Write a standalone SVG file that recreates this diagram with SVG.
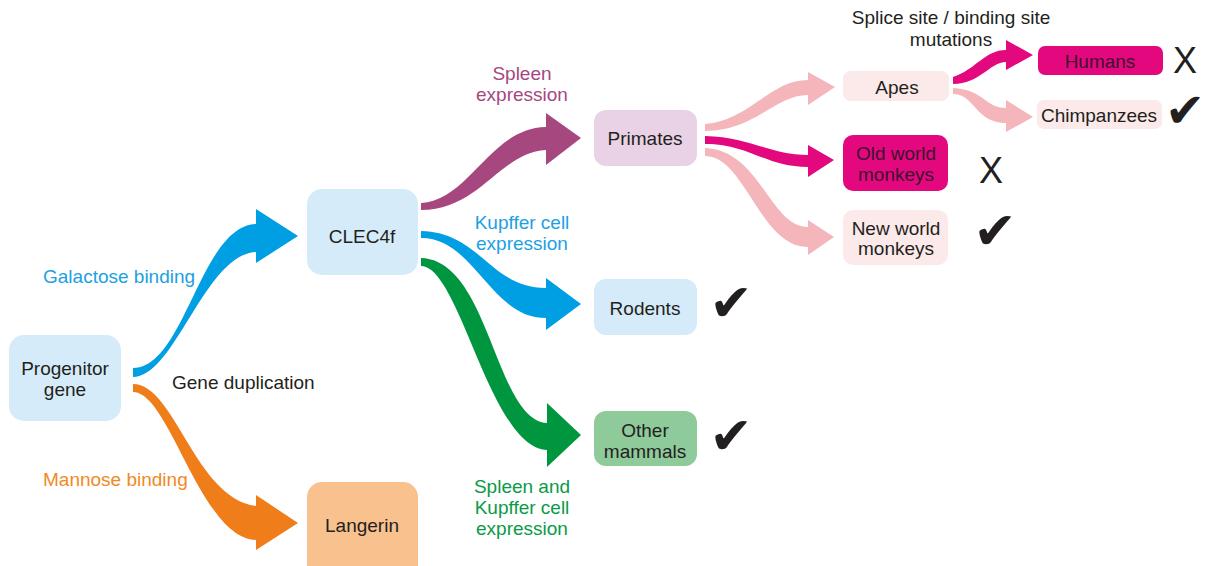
<svg xmlns="http://www.w3.org/2000/svg" width="1206" height="566" viewBox="0 0 1206 566">
<style>
text{font-family:"Liberation Sans",Arial,sans-serif;}
.n{font-size:19px;fill:#231f20;text-anchor:middle;}
.nm{font-size:19px;fill:#3d1030;text-anchor:middle;}
.l{font-size:19px;}
.c{text-anchor:middle;}
.blue{fill:#1ba1e2;}
.org{fill:#f08a24;}
.pur{fill:#a6477f;}
.grn{fill:#0a9a48;}
.blk{fill:#231f20;}
.chk{font-family:"DejaVu Sans",sans-serif;font-size:52px;fill:#231f20;text-anchor:middle;}
.x{font-size:36px;fill:#231f20;text-anchor:middle;}
</style>
<rect width="1206" height="566" fill="#ffffff"/>
<g id="connectors">
<path fill="#009fe3" d="M133,368 C185,368 200,226 256,224 L256,209 L298,236 L256,263 L256,252 C205,254 175,377 133,377 Z"/>
<path fill="#ef7d1a" d="M133,384 C175,384 195,498 256,506 L256,495 L298,523 L256,550 L256,540 C200,538 170,392 133,392 Z"/>
<path fill="#a6477f" d="M421,203 C470,200 490,128 546,127 L546,113 L581,138 L546,165 L546,150 C500,152 480,210 421,210 Z"/>
<path fill="#009fe3" d="M421,231 C480,232 490,288 546,288 L546,278 L581,304 L546,330 L546,318 C490,318 475,238 421,238 Z"/>
<path fill="#009640" d="M421,258 C490,260 495,420 547,423 L547,403 L581,435 L547,467 L547,450 C490,448 460,266 421,266 Z"/>
<path fill="#f4b6ba" d="M705,124 C750,120 770,80 808,80 L808,72 L835,87 L808,105 L808,95 C775,95 755,131 705,131 Z"/>
<path fill="#e4087e" d="M705,136 C750,137 770,155 808,155 L808,145 L834,160 L808,177 L808,167 C765,167 750,144 705,144 Z"/>
<path fill="#f4b6ba" d="M705,148 C760,150 770,227 808,227 L808,220 L834,237 L808,255 L808,247 C760,247 745,156 705,156 Z"/>
<path fill="#e4087e" d="M953,77 C975,70 985,50 1006,50 L1006,40 L1033,55 L1006,70 L1006,62 C990,62 980,84 953,84 Z"/>
<path fill="#f4b6ba" d="M953,88 C985,90 985,108 1006,108 L1006,100 L1033,117 L1006,132 L1006,123 C975,123 975,94 953,94 Z"/>
</g>
<g id="progenitor">
<rect x="9" y="335" width="112" height="86" rx="15" fill="#d5ebf9"/>
<text class="n" x="65" y="375">Progenitor</text>
<text class="n" x="65" y="396">gene</text>
</g>
<g id="clec4f">
<rect x="307" y="189" width="111" height="86" rx="15" fill="#d5ebf9"/>
<text class="n" x="362" y="243">CLEC4f</text>
</g>
<g id="langerin">
<rect x="307" y="482" width="111" height="100" rx="15" fill="#f9c18e"/>
<text class="n" x="362" y="532">Langerin</text>
</g>
<g id="primates">
<rect x="594" y="110" width="103" height="56" rx="12" fill="#e9d2e6"/>
<text class="n" x="645" y="145">Primates</text>
</g>
<g id="rodents">
<rect x="594" y="279" width="103" height="56" rx="12" fill="#d5ebf9"/>
<text class="n" x="645" y="315">Rodents</text>
</g>
<g id="other-mammals">
<rect x="594" y="411" width="103" height="55" rx="12" fill="#8fca9b"/>
<text class="n" x="645" y="437">Other</text>
<text class="n" x="645" y="458">mammals</text>
</g>
<g id="apes">
<rect x="843" y="71" width="106" height="30" rx="8" fill="#fce9e9"/>
<text class="n" x="897" y="94">Apes</text>
</g>
<g id="old-world-monkeys">
<rect x="843" y="135" width="105" height="56" rx="10" fill="#e4087e"/>
<text class="nm" x="896" y="160">Old world</text>
<text class="nm" x="896" y="181">monkeys</text>
</g>
<g id="new-world-monkeys">
<rect x="843" y="210" width="105" height="55" rx="10" fill="#fce9e9"/>
<text class="n" x="896" y="235">New world</text>
<text class="n" x="896" y="255">monkeys</text>
</g>
<g id="humans">
<rect x="1038" y="46" width="125" height="29" rx="7" fill="#e4087e"/>
<text class="nm" x="1100" y="68">Humans</text>
</g>
<g id="chimpanzees">
<rect x="1037" y="100" width="125" height="29" rx="7" fill="#fce9e9"/>
<text class="n" x="1099" y="122">Chimpanzees</text>
</g>
<g id="labels">
<text class="l blue" x="43" y="283">Galactose binding</text>
<text class="l blk" x="172" y="389">Gene duplication</text>
<text class="l org" x="43" y="486">Mannose binding</text>
<text class="l pur c" x="522" y="80">Spleen</text>
<text class="l pur c" x="522" y="101">expression</text>
<text class="l blue c" x="522" y="229">Kupffer cell</text>
<text class="l blue c" x="522" y="250">expression</text>
<text class="l grn c" x="522" y="493">Spleen and</text>
<text class="l grn c" x="522" y="514">Kupffer cell</text>
<text class="l grn c" x="522" y="535">expression</text>
<text class="l blk c" x="951" y="24">Splice site / binding site</text>
<text class="l blk c" x="951" y="46">mutations</text>
</g>
<g id="marks">
<text class="x" x="1185" y="73">X</text>
<text class="x" x="991" y="183">X</text>
<text class="chk" x="1185" y="127" style="font-size:48px">✔</text>
<text class="chk" x="995" y="249">✔</text>
<text class="chk" x="731" y="321">✔</text>
<text class="chk" x="731" y="454">✔</text>
</g>
</svg>
